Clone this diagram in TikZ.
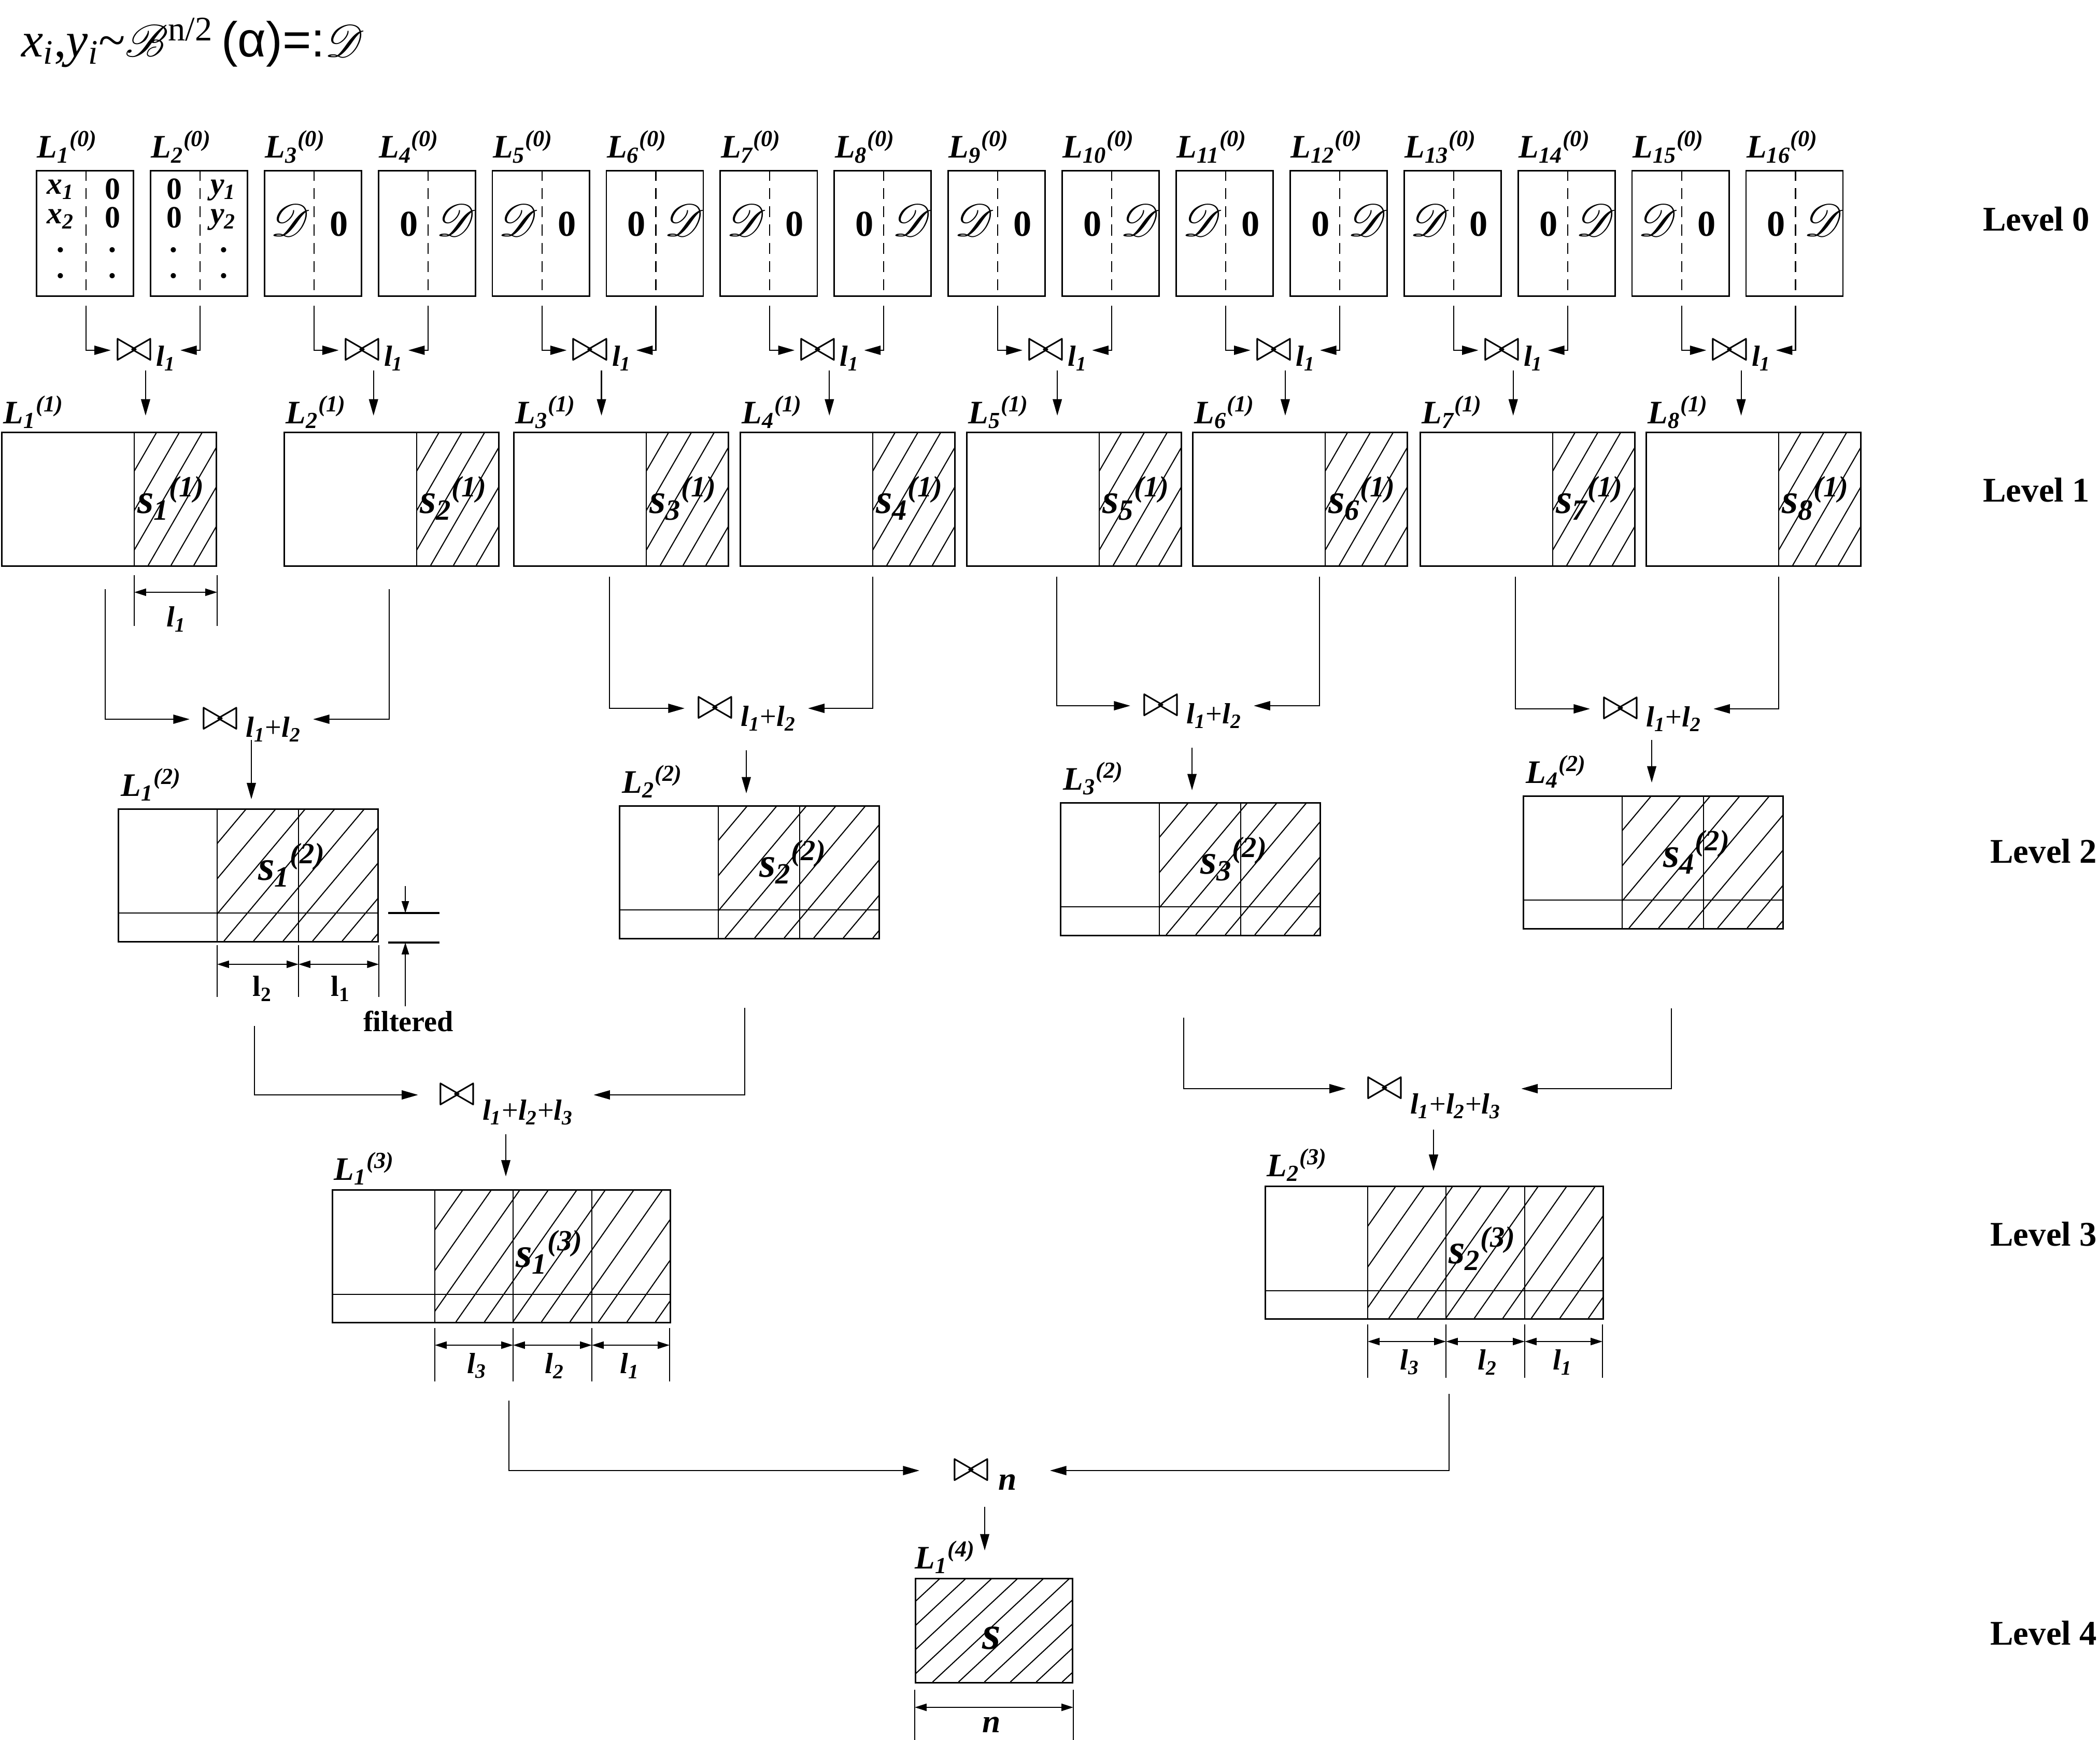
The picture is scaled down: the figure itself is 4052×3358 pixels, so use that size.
\documentclass[tikz,border=0pt]{standalone}
\usepackage{fontspec}
\usepackage{mathrsfs}
\setmainfont{Liberation Serif}
\newfontfamily\arialfont{Liberation Sans}
\usetikzlibrary{arrows.meta, positioning, calc}

% names of the lists and of their parts
\newcommand{\Lset}[2]{{\bfseries\itshape L\textsubscript{#1}\textsuperscript{(#2)}}}
\newcommand{\sset}[2]{{\bfseries\itshape s\textsubscript{#1}\textsuperscript{(#2)}}}
\newcommand{\lsub}[1]{{\bfseries\itshape l\textsubscript{#1}}}
\newcommand{\scrD}{{\fontsize{23}{25}\selectfont$\mathscr{D}$}}

% hatching of a rectangle: left, top, right, bottom, angle, step
\newcommand{\hatchbox}[6]{%
  \begin{scope}
    \clip (#1,#2) rectangle (#3,#4);
    \pgfmathsetmacro{\hfirst}{#1-(#4-#2)/tan(#5)}
    \pgfmathsetmacro{\hsecond}{\hfirst+#6}
    \pgfmathsetmacro{\hlast}{#3}
    \foreach \hx in {\hfirst,\hsecond,...,\hlast}
      \draw[hatchline] (\hx,#4) -- ++(#5:12cm);
  \end{scope}}

\tikzset{
  listbox/.style={rectangle, draw, line width=0.8pt, inner sep=0pt, anchor=north west},
  hatchline/.style={line width=0.6pt},
  sepline/.style={line width=0.6pt},
  tickline/.style={line width=0.9pt},
  dashsep/.style={line width=0.6pt, dash pattern=on 6pt off 4pt},
  lab/.style={inner sep=0pt, anchor=base west, font=\fontsize{18}{20}\selectfont},
  slab/.style={inner sep=0pt, anchor=base, font=\fontsize{23}{26}\selectfont},
  entry/.style={inner sep=0pt, anchor=base, font=\fontsize{20}{22}\selectfont\bfseries},
  rowentry/.style={inner sep=0pt, anchor=base, font=\fontsize{17}{19}\selectfont\bfseries},
  dotentry/.style={inner sep=0pt, font=\fontsize{12}{13}\selectfont},
  merge/.style={inner ysep=0pt, text height=11.5pt, text depth=0pt, font=\fontsize{23}{25}\selectfont},
  arrow/.style={-{Triangle[length=9pt,width=5pt]}, line width=0.6pt},
  dimarrow/.style={{Triangle[length=6.5pt,width=4pt]}-{Triangle[length=6.5pt,width=4pt]}, line width=0.6pt},
  filtarrow/.style={-{Triangle[length=6.5pt,width=4pt]}, line width=0.6pt},
  extline/.style={line width=0.6pt},
  dimlab/.style={inner sep=0pt, font=\fontsize{16}{18}\selectfont},
  levellab/.style={inner sep=0pt, anchor=east, font=\fontsize{19}{21}\selectfont\bfseries}
}

\begin{document}
\begin{tikzpicture}[x=0.01cm, y=-0.01cm]
  \useasboundingbox (0,0) rectangle (4052,3358);

  % Title
  \node[anchor=base west, inner sep=0pt, font=\fontsize{27}{30}\selectfont] (title) at (41,110)
    {\textit{x}\textsubscript{\textit{i}},\textit{y}\textsubscript{\textit{i}}\textasciitilde$\mathscr{B}$\textsuperscript{n/2}\,{\arialfont(α)=:}$\mathscr{D}$};

  % Level 0
  \foreach \k in {1,...,16} {
    \pgfmathsetmacro{\bx}{69+219.9*(\k-1)}
    \node[listbox, minimum width=1.87cm, minimum height=2.42cm] (b0-\k) at (\bx,328) {};
    \draw[dashsep] ($(b0-\k.north)+(2,0)$) -- ($(b0-\k.south)+(2,0)$);
    \node[lab] (l0-\k) at ($(b0-\k.north west)+(2,-23)$) {\Lset{\k}{0}};
  }
  \foreach \k in {3,...,16} {
    \ifodd\k
      \node[entry] (ea-\k) at ($(b0-\k.north west)+(52,128)$) {\scrD};
      \node[entry] (eb-\k) at ($(b0-\k.north west)+(145,128)$) {0};
    \else
      \node[entry] (ea-\k) at ($(b0-\k.north west)+(60,128)$) {0};
      \node[entry] (eb-\k) at ($(b0-\k.north west)+(152,128)$) {\scrD};
    \fi
  }
  % contents of the first two lists
  \node[rowentry, font=\fontsize{17}{19}\selectfont\bfseries\itshape] (x1) at ($(b0-1.north west)+(48,47)$) {x\textsubscript{1}};
  \node[rowentry, font=\fontsize{17}{19}\selectfont\bfseries\itshape] (x2) at ($(b0-1.north west)+(48,104)$) {x\textsubscript{2}};
  \node[rowentry] (z1) at ($(b0-1.north west)+(148,57)$) {0};
  \node[rowentry] (z2) at ($(b0-1.north west)+(148,112)$) {0};
  \node[rowentry] (z3) at ($(b0-2.north west)+(48,57)$) {0};
  \node[rowentry] (z4) at ($(b0-2.north west)+(48,112)$) {0};
  \node[rowentry, font=\fontsize{17}{19}\selectfont\bfseries\itshape] (y1) at ($(b0-2.north west)+(142,47)$) {y\textsubscript{1}};
  \node[rowentry, font=\fontsize{17}{19}\selectfont\bfseries\itshape] (y2) at ($(b0-2.north west)+(142,104)$) {y\textsubscript{2}};
  \foreach \k/\cx/\cy in {1/48/159, 1/48/209, 1/148/159, 1/148/209, 2/46/159, 2/46/209, 2/143/159, 2/143/209}
    \node[dotentry] (dot-\k-\cx-\cy) at ($(b0-\k.north west)+(\cx,\cy)$) {\textbullet};

  % Level 1
  \foreach \j/\bx in {1/2, 2/547, 3/990, 4/1427, 5/1864, 6/2300, 7/2739, 8/3175} {
    \node[listbox, minimum width=4.14cm, minimum height=2.58cm] (b1-\j) at (\bx,833) {};
    \hatchbox{\bx+257}{833}{\bx+414}{1091}{60}{44}
    \draw[sepline] ($(b1-\j.north west)+(257,0)$) -- ($(b1-\j.south west)+(257,0)$);
    \node[lab] (l1-\j) at ($(b1-\j.north west)+(4,-16)$) {\Lset{\j}{1}};
    \node[slab] (s1-\j) at ($(b1-\j.north west)+(328,157)$) {\sset{\j}{1}};
  }
  \draw[extline] ($(b1-1.south west)+(257,16)$) -- +(0,98);
  \draw[extline] ($(b1-1.south east)+(0,16)$) -- +(0,98);
  \draw[dimarrow] ($(b1-1.south west)+(257,49)$) -- ($(b1-1.south east)+(0,49)$);
  \node[dimlab] (dl1) at ($(b1-1.south west)+(338,101)$) {\lsub{1}};

  % Joins of level 0
  \foreach \j [evaluate=\j as \a using int(2*\j-1), evaluate=\j as \b using int(2*\j)] in {1,...,8} {
    \node[merge, inner xsep=2.5pt] (m01-\j) at ($(b0-\a.south)!0.5!(b0-\b.south)+(7,103)$)
      {$\bowtie$\hspace{2pt}\raisebox{-3pt}{\fontsize{16}{18}\selectfont\lsub{1}}};
    \draw[arrow] ($(b0-\a.south)+(2,17)$) |- (m01-\j.west);
    \draw[arrow] ($(b0-\b.south)+(2,17)$) |- (m01-\j.east);
    \draw[arrow, shorten <=11pt, shorten >=8.8pt] (m01-\j.center) -- (m01-\j.center |- b1-\j.north);
  }

  % Level 2
  \foreach \j/\bx/\by in {1/227/1560, 2/1194/1554, 3/2045/1548, 4/2938/1535} {
    \node[listbox, minimum width=5.01cm, minimum height=2.56cm] (b2-\j) at (\bx,\by) {};
    \hatchbox{\bx+192}{\by}{\bx+501}{\by+256}{50}{57}
    \draw[sepline] ($(b2-\j.north west)+(192,0)$) -- ($(b2-\j.south west)+(192,0)$);
    \draw[sepline] ($(b2-\j.north west)+(349,0)$) -- ($(b2-\j.south west)+(349,0)$);
    \draw[sepline] ($(b2-\j.south west)+(0,-57)$) -- ($(b2-\j.south east)+(0,-57)$);
    \node[lab] (l2-\j) at ($(b2-\j.north west)+(6,-24)$) {\Lset{\j}{2}};
    \node[slab] (s2-\j) at ($(b2-\j.north west)+(336,138)$) {\sset{\j}{2}};
  }
  \draw[extline] ($(b2-1.south west)+(192,5)$) -- +(0,100);
  \draw[extline] ($(b2-1.south west)+(349,5)$) -- +(0,100);
  \draw[extline] ($(b2-1.south east)+(0,5)$) -- +(0,100);
  \draw[dimarrow] ($(b2-1.south west)+(192,42)$) -- ($(b2-1.south west)+(349,42)$);
  \draw[dimarrow] ($(b2-1.south west)+(349,42)$) -- ($(b2-1.south east)+(0,42)$);
  \node[dimlab, font=\fontsize{16}{18}\selectfont\bfseries] (dl2a) at ($(b2-1.south west)+(279,89)$) {l\textsubscript{2}};
  \node[dimlab, font=\fontsize{16}{18}\selectfont\bfseries] (dl2b) at ($(b2-1.south west)+(430,89)$) {l\textsubscript{1}};
  % filtered part
  \draw[tickline] ($(b2-1.south east)+(18,-57)$) -- +(99,0);
  \draw[tickline] ($(b2-1.south east)+(18,0)$) -- +(99,0);
  \draw[filtarrow] ($(b2-1.south east)+(51,-109)$) -- ($(b2-1.south east)+(51,-57)$);
  \draw[filtarrow] ($(b2-1.south east)+(51,123)$) -- ($(b2-1.south east)+(51,0)$);
  \node[dimlab, font=\fontsize{16}{18}\selectfont\bfseries] (filt) at ($(b2-1.south east)+(57,152)$) {filtered};

  % Joins of level 1
  \node[merge, inner xsep=6.5pt] (m12-1) at (485,1388) {$\bowtie$\hspace{4pt}\raisebox{-4pt}{\fontsize{16}{18}\selectfont\lsub{1}+\lsub{2}}};
  \node[merge, inner xsep=6.5pt] (m12-2) at (1440,1367) {$\bowtie$\hspace{4pt}\raisebox{-4pt}{\fontsize{16}{18}\selectfont\lsub{1}+\lsub{2}}};
  \node[merge, inner xsep=6.5pt] (m12-3) at (2300,1362) {$\bowtie$\hspace{4pt}\raisebox{-4pt}{\fontsize{16}{18}\selectfont\lsub{1}+\lsub{2}}};
  \node[merge, inner xsep=6.5pt] (m12-4) at (3187,1368) {$\bowtie$\hspace{4pt}\raisebox{-4pt}{\fontsize{16}{18}\selectfont\lsub{1}+\lsub{2}}};
  \draw[arrow] ($(b1-1.south west)+(201,43)$) |- (m12-1.west);
  \draw[arrow] ($(b1-2.south west)+(204,43)$) |- (m12-1.east);
  \draw[arrow] ($(b1-3.south west)+(186,19)$) |- (m12-2.west);
  \draw[arrow] ($(b1-4.south west)+(257,19)$) |- (m12-2.east);
  \draw[arrow] ($(b1-5.south west)+(175,19)$) |- (m12-3.west);
  \draw[arrow] ($(b1-6.south west)+(246,19)$) |- (m12-3.east);
  \draw[arrow] ($(b1-7.south west)+(185,19)$) |- (m12-4.west);
  \draw[arrow] ($(b1-8.south west)+(257,19)$) |- (m12-4.east);
  \draw[arrow, shorten <=11.5pt, shorten >=5pt] (m12-1.center) -- (m12-1.center |- b2-1.north);
  \draw[arrow, shorten <=23pt, shorten >=6.5pt] (m12-2.center) -- (m12-2.center |- b2-2.north);
  \draw[arrow, shorten <=23pt, shorten >=6.5pt] (m12-3.center) -- (m12-3.center |- b2-3.north);
  \draw[arrow, shorten <=17pt, shorten >=7pt] (m12-4.center) -- (m12-4.center |- b2-4.north);

  % Level 3
  \foreach \j/\bx/\by in {1/640/2295, 2/2440/2288} {
    \node[listbox, minimum width=6.52cm, minimum height=2.56cm] (b3-\j) at (\bx,\by) {};
    \hatchbox{\bx+199}{\by}{\bx+652}{\by+256}{55}{55}
    \foreach \dx in {199,350,502}
      \draw[sepline] ($(b3-\j.north west)+(\dx,0)$) -- ($(b3-\j.south west)+(\dx,0)$);
    \draw[sepline] ($(b3-\j.south west)+(0,-56)$) -- ($(b3-\j.south east)+(0,-56)$);
    \node[lab] (l3-\j) at ($(b3-\j.north west)+(4,-18)$) {\Lset{\j}{3}};
    \node[slab] (s3-\j) at ($(b3-\j.north west)+(420,150)$) {\sset{\j}{3}};
    % widths of the parts
    \foreach \dx in {199,350,502,652}
      \draw[extline] ($(b3-\j.south west)+(\dx,9)$) -- +(0,103);
    \draw[dimarrow] ($(b3-\j.south west)+(199,42)$) -- ($(b3-\j.south west)+(350,42)$);
    \draw[dimarrow] ($(b3-\j.south west)+(350,42)$) -- ($(b3-\j.south west)+(502,42)$);
    \draw[dimarrow] ($(b3-\j.south west)+(502,42)$) -- ($(b3-\j.south west)+(652,42)$);
    \node[dimlab] (dl3a-\j) at ($(b3-\j.south west)+(280,82)$) {\lsub{3}};
    \node[dimlab] (dl3b-\j) at ($(b3-\j.south west)+(430,82)$) {\lsub{2}};
    \node[dimlab] (dl3c-\j) at ($(b3-\j.south west)+(575,82)$) {\lsub{1}};
  }

  % Joins of level 2
  \node[merge, inner xsep=11pt] (m23-1) at (976,2113) {$\bowtie$\hspace{4pt}\raisebox{-8pt}{\fontsize{16}{18}\selectfont\lsub{1}+\lsub{2}+\lsub{3}}};
  \node[merge, inner xsep=11pt] (m23-2) at (2766,2101) {$\bowtie$\hspace{4pt}\raisebox{-8pt}{\fontsize{16}{18}\selectfont\lsub{1}+\lsub{2}+\lsub{3}}};
  \draw[arrow] ($(b2-1.south west)+(264,161)$) |- (m23-1.west);
  \draw[arrow] ($(b2-2.south west)+(243,132)$) |- (m23-1.east);
  \draw[arrow] ($(b2-3.south west)+(239,157)$) |- (m23-2.west);
  \draw[arrow] ($(b2-4.south west)+(287,152)$) |- (m23-2.east);
  \draw[arrow, shorten <=21.5pt, shorten >=7pt] (m23-1.center) -- (m23-1.center |- b3-1.north);
  \draw[arrow, shorten <=22.5pt, shorten >=8pt] (m23-2.center) -- (m23-2.center |- b3-2.north);

  % Level 4
  \node[listbox, minimum width=3.03cm, minimum height=2.01cm] (b4) at (1765,3045) {};
  \hatchbox{1765}{3045}{2068}{3246}{43}{50}
  \node[lab] (l4) at ($(b4.north west)+(0,-18)$) {\Lset{1}{4}};
  \node[slab, font=\fontsize{26}{28}\selectfont] (s4) at ($(b4.north west)+(148,137)$) {\bfseries\itshape s};
  \draw[extline] ($(b4.south west)+(0,12)$) -- +(0,97);
  \draw[extline] ($(b4.south east)+(0,12)$) -- +(0,97);
  \draw[dimarrow] ($(b4.south west)+(0,46)$) -- ($(b4.south east)+(0,46)$);
  \node[dimlab, font=\fontsize{18}{20}\selectfont\bfseries\itshape] (dl4) at ($(b4.south west)+(148,80)$) {n};

  % Join of level 3
  \node[merge, inner xsep=18pt] (m34) at (1900,2838) {$\bowtie$\hspace{5pt}\raisebox{-5pt}{\fontsize{18}{20}\selectfont\bfseries\itshape n}};
  \draw[arrow] ($(b3-1.south west)+(342,149)$) |- (m34.west);
  \draw[arrow] ($(b3-2.south west)+(356,143)$) |- (m34.east);
  \draw[arrow, shorten <=20pt, shorten >=15pt] (m34.center) -- (m34.center |- b4.north);

  % Levels
  \node[levellab] (lv0) at (4033,423) {Level 0};
  \node[levellab] (lv1) at (4033,946) {Level 1};
  \node[levellab] (lv2) at (4047,1643) {Level 2};
  \node[levellab] (lv3) at (4047,2382) {Level 3};
  \node[levellab] (lv4) at (4047,3152) {Level 4};
\end{tikzpicture}
\end{document}
